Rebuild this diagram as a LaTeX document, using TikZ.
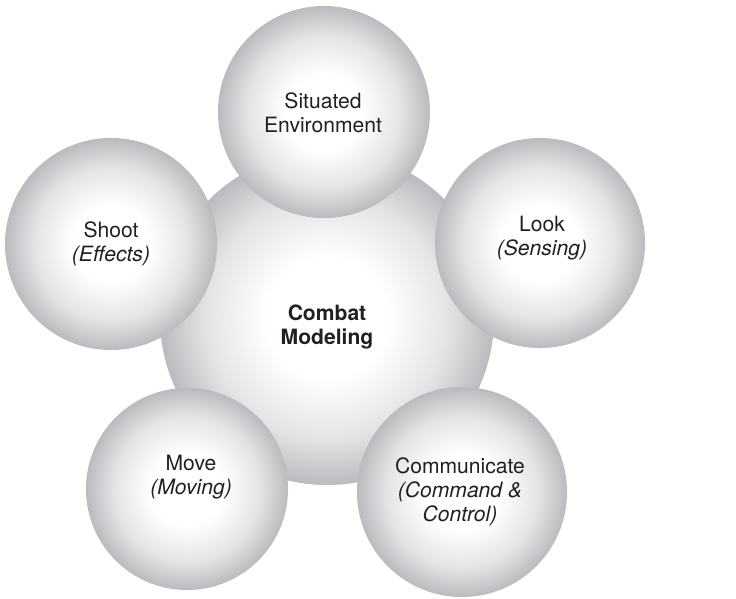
\documentclass[tikz,border=0pt]{standalone}
\usepackage{fontspec}
\setmainfont{TeX Gyre Heros}
\definecolor{ballgray}{RGB}{186,187,190}
\definecolor{ballmid}{RGB}{228,228,230}
\definecolor{inkgray}{RGB}{35,31,32}
\pgfdeclareradialshading{sphere}{\pgfpoint{0bp}{0bp}}{%
  color(0bp)=(white); color(9bp)=(white);
  color(18bp)=(ballmid); color(25bp)=(ballgray); color(50bp)=(ballgray)}
\tikzset{
  ball/.style={circle, shade, shading=sphere, inner sep=0pt},
  txt/.style={align=center, text=inkgray, font=\fontsize{15}{17}\selectfont}
}
\begin{document}
\begin{tikzpicture}[x=0.025cm, y=-0.025cm]
    \useasboundingbox (0,0) rectangle (736,598);
    \node[ball, minimum size=8.35cm] at (327,318) (combat) {};
    \node[ball, minimum size=5.3cm] at (324,112) (env) {};
    \node[ball, minimum size=5.3cm] at (111,244) (shoot) {};
    \node[ball, minimum size=5.25cm] at (540,243) (look) {};
    \node[ball, minimum size=5.05cm] at (187,489) (move) {};
    \node[ball, minimum size=5.25cm] at (462,492) (comm) {};
    \node[txt] at (327,327) (combattxt) {\textbf{Combat}\\\textbf{Modeling}};
    \node[txt] at (323,113) (envtxt) {Situated\\Environment};
    \node[txt] at (111,244) (shoottxt) {Shoot\\\textit{(Effects)}};
    \node[txt] at (542,238) (looktxt) {Look\\\textit{(Sensing)}};
    \node[txt] at (191,477) (movetxt) {Move\\\textit{(Moving)}};
    \node[txt] at (460,492) (commtxt) {Communicate\\\textit{(Command \&}\\\textit{Control)}};
\end{tikzpicture}
\end{document}
